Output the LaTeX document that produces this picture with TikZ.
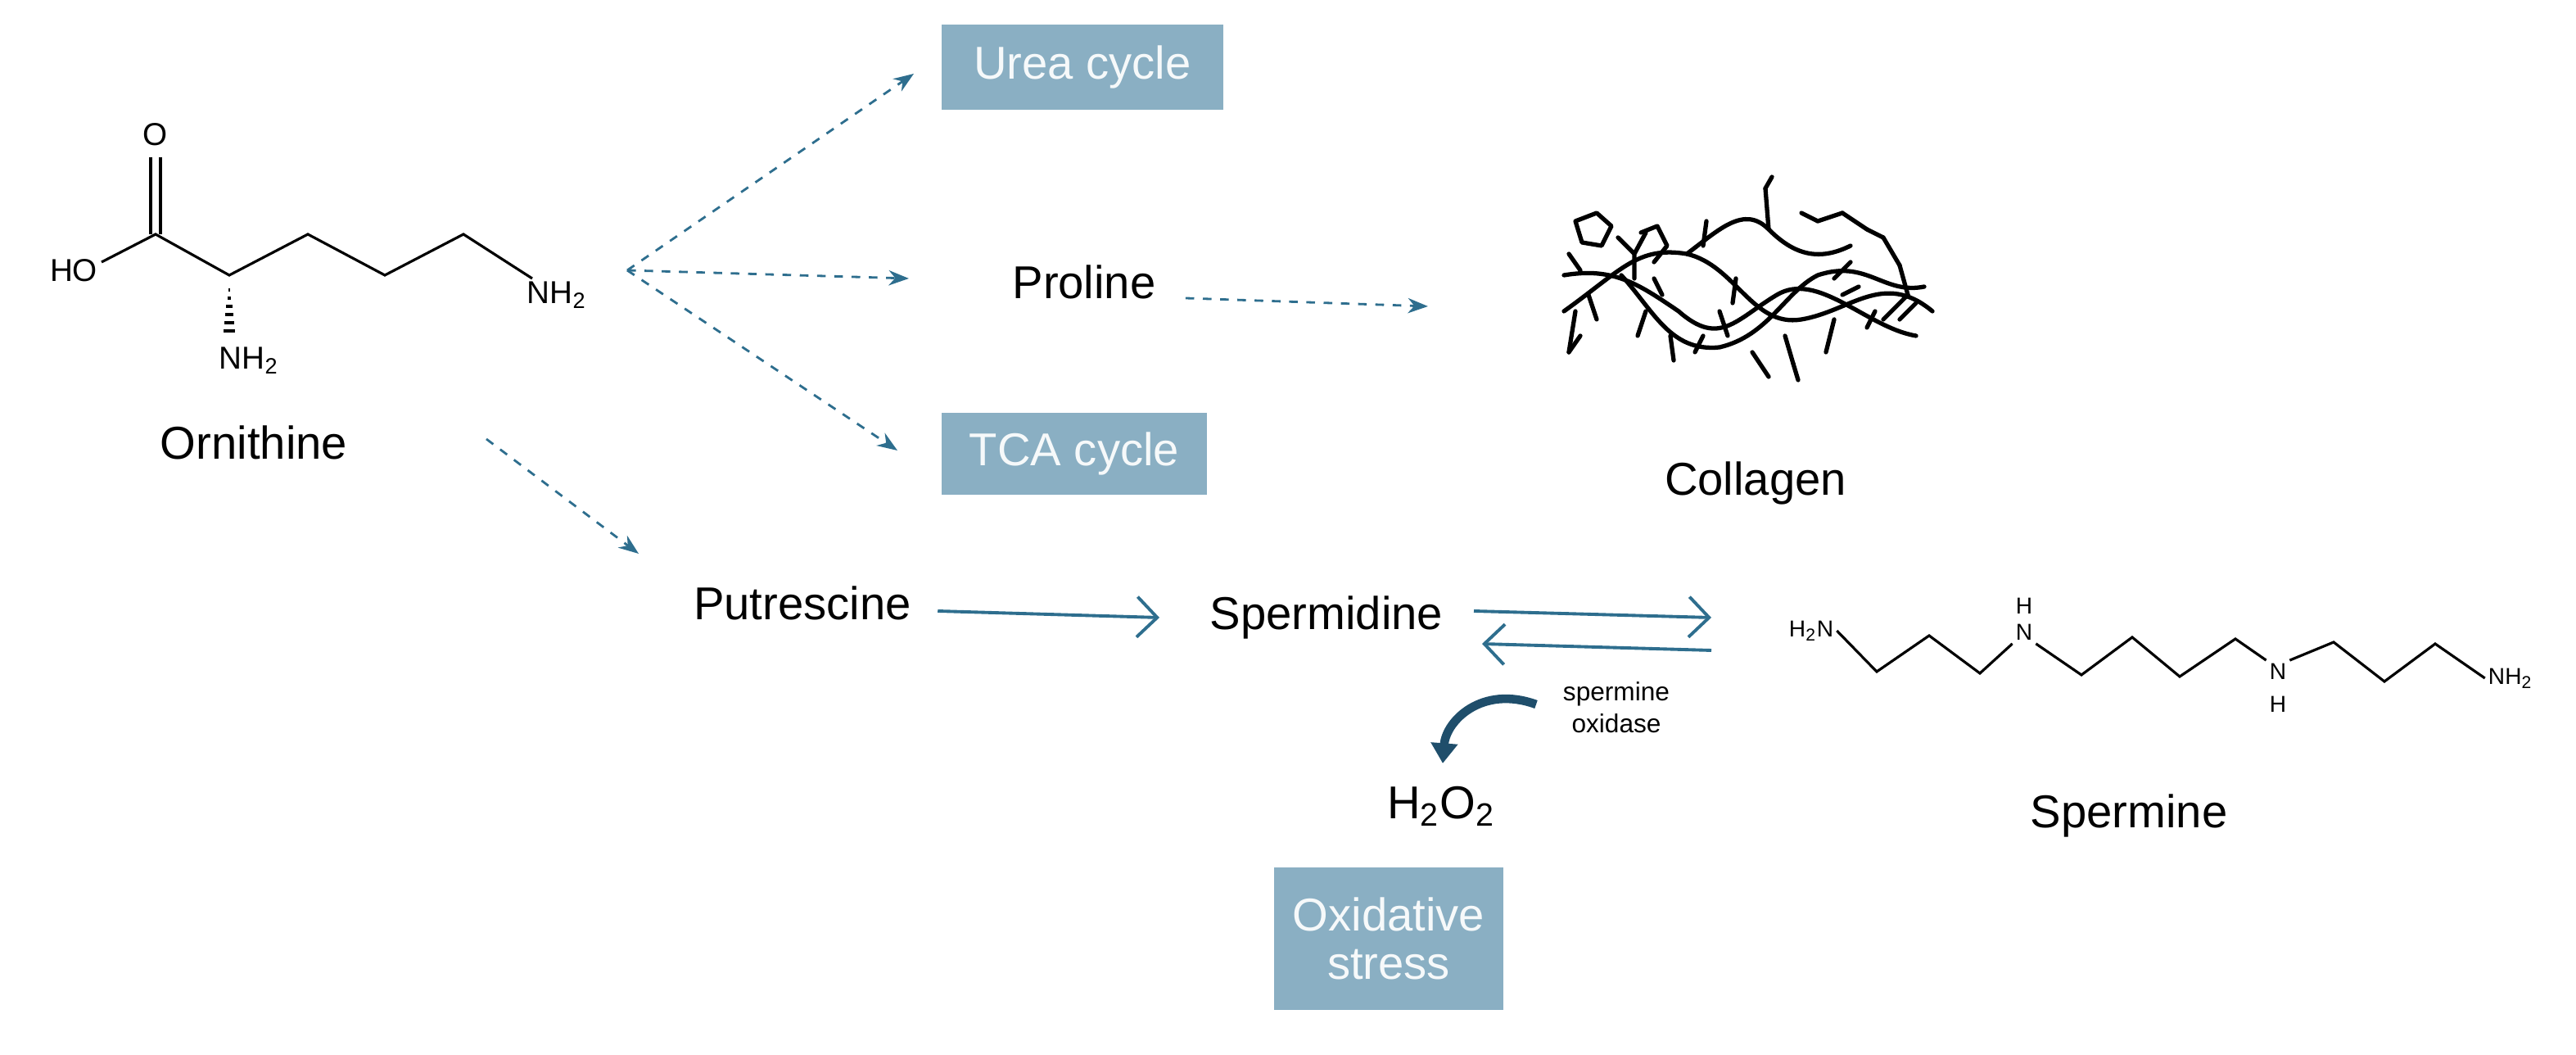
\documentclass[tikz,border=0pt]{standalone}
\usepackage{fontspec}
\setmainfont{Liberation Sans}
\usetikzlibrary{arrows.meta}
\definecolor{teal1}{HTML}{2E6E8E}
\definecolor{boxc}{HTML}{8AAFC3}
\definecolor{darkarr}{HTML}{1F4E6B}
\tikzset{
  lbl/.style={font=\fontsize{16}{19}\selectfont},
  atom/.style={font=\fontsize{11}{13}\selectfont, inner sep=1pt},
  satom/.style={font=\fontsize{8}{10}\selectfont, inner sep=1pt},
  bx/.style={fill=boxc, text=white!92!boxc, font=\fontsize{16}{19}\selectfont, align=center},
  dar/.style={teal1, thick, dashed, -{Stealth[length=7pt]}},
  sar/.style={teal1, line width=1.1pt, -{Straight Barb[length=7pt]}},
  bond/.style={line width=0.9pt}
}
\begin{document}
\begin{tikzpicture}[x=0.02cm,y=-0.02cm]
\useasboundingbox (0,0) rectangle (1573,644);
% ornithine
\node[atom] (O) at (95,82) {O};
\node[atom] (HO) at (45,165) {HO};
\node[atom] (N1) at (152,220) {NH\textsubscript{2}};
\node[atom] (N2) at (340,180) {NH\textsubscript{2}};
\draw[bond] (92,96) -- (92,143) (98,96) -- (98,143);
\draw[bond] (62,160) -- (95,143) -- (140,168) -- (188,143) -- (235,168) -- (283,143) -- (325,170);
\foreach \i in {0,...,6} \draw[line width=1pt] ({140-0.6*\i},{172+5*\i}) -- ({140+0.6*\i},{172+5*\i});
\node[lbl] (orn) at (155,270) {Ornithine};
\coordinate (src) at (383,165);
% boxes and labels
\node[bx, minimum width=172*0.02cm, minimum height=52*0.02cm] (urea) at (661,41) {Urea cycle};
\node[bx, minimum width=162*0.02cm, minimum height=50*0.02cm] (tca) at (656,277) {TCA cycle};
\node[lbl] (pro) at (662,172) {Proline};
\node[lbl] (col) at (1072,295) {Collagen};
\node[lbl] (put) at (490,368) {Putrescine};
\node[lbl] (spd) at (810,377) {Spermidine};
\node[lbl] (spm) at (1300,498) {Spermine};
\node[lbl] (h2o2) at (880,492) {H\textsubscript{2}O\textsubscript{2}};
\node[bx, minimum width=140*0.02cm, minimum height=87*0.02cm] (ox) at (848,573) {Oxidative\\[-2pt]stress};
\node[font=\fontsize{9}{11}\selectfont, align=center] (so) at (987,432) {spermine\\oxidase};
% arrows
\draw[dar] (src) -- (558,45);
\draw[dar] (src) -- (555,170);
\draw[dar] (src) -- (548,275);
\coordinate (colin) at (872,187);
\draw[dar] (pro.east) ++(12,10) -- (colin);
\draw[dar] (297,268) -- (390,338);
\draw[sar] (put.east) ++(10,5) -- (708,377);
\draw[sar] (900,373) -- (1045,377);
\draw[sar] (1045,397) -- (905,393);
\draw[darkarr, line width=3pt, -{Triangle[length=7pt,width=9pt]}] (938,430) .. controls (905,418) and (883,440) .. (881,466);
% spermine
\node[satom] (a1) at (1106,385) {H\textsubscript{2}N};
\node[satom] (a2) at (1236,386) {N};
\node[satom] at (1236,370) {H};
\node[satom] (a3) at (1391,410) {N};
\node[satom] at (1391,430) {H};
\node[satom] (a4) at (1533,414) {NH\textsubscript{2}};
\draw[bond] (a1.east) -- (1146,410) -- (1178,388) -- (1209,411) -- (a2.south west);
\draw[bond] (a2.south east) -- (1271,412) -- (1302,389) -- (1331,413) -- (1365,390) -- (a3.north west);
\draw[bond] (a3.north east) -- (1425,392) -- (1456,416) -- (1487,393) -- (a4.west);
% collagen sketch
\begin{scope}[line width=1.5pt, line cap=round, line join=round]
\draw (955,190) .. controls (990,165) and (1000,150) .. (1030,155) .. controls (1060,162) and (1070,200) .. (1100,195) .. controls (1130,190) and (1150,165) .. (1180,190);
\draw (955,168) .. controls (985,163) and (1000,173) .. (1025,190) .. controls (1050,212) and (1060,195) .. (1085,180) .. controls (1110,165) and (1140,200) .. (1170,205);
\draw (990,168) .. controls (1010,190) and (1020,215) .. (1050,212) .. controls (1080,205) and (1090,178) .. (1110,168) .. controls (1140,158) and (1150,180) .. (1175,175);
\draw (1030,155) .. controls (1050,140) and (1065,125) .. (1080,140) .. controls (1095,155) and (1110,160) .. (1130,150);
\draw (962,135) -- (975,130) -- (984,138) -- (978,150) -- (966,148) -- cycle;
\draw (1002,142) -- (1012,138) -- (1018,150) -- (1010,160);
\draw (988,145) -- (998,155) -- (1005,142) (998,155) -- (998,170);
\foreach \a/\b/\c/\d in {1040/150/1042/135, 1080/140/1078/115, 1078/115/1082/108, 1100/130/1110/135, 1110/135/1125/130, 1125/130/1140/140, 1140/140/1150/145, 1150/145/1160/162, 1160/162/1165/180, 1165/180/1150/195, 1060/170/1058/185, 1050/190/1055/205, 1040/205/1035/215, 1020/205/1022/220, 1070/215/1080/230, 1090/205/1095/222, 1095/222/1098/232, 1120/195/1115/215, 1140/200/1145/190, 1160/195/1170/185, 962/190/958/215, 958/215/965/205, 970/180/975/195, 1005/190/1000/205, 1120/170/1130/160, 1125/180/1135/175, 1010/170/1015/180, 958/155/965/165}
  \draw (\a,\b) -- (\c,\d);
\end{scope}
\end{tikzpicture}
\end{document}
